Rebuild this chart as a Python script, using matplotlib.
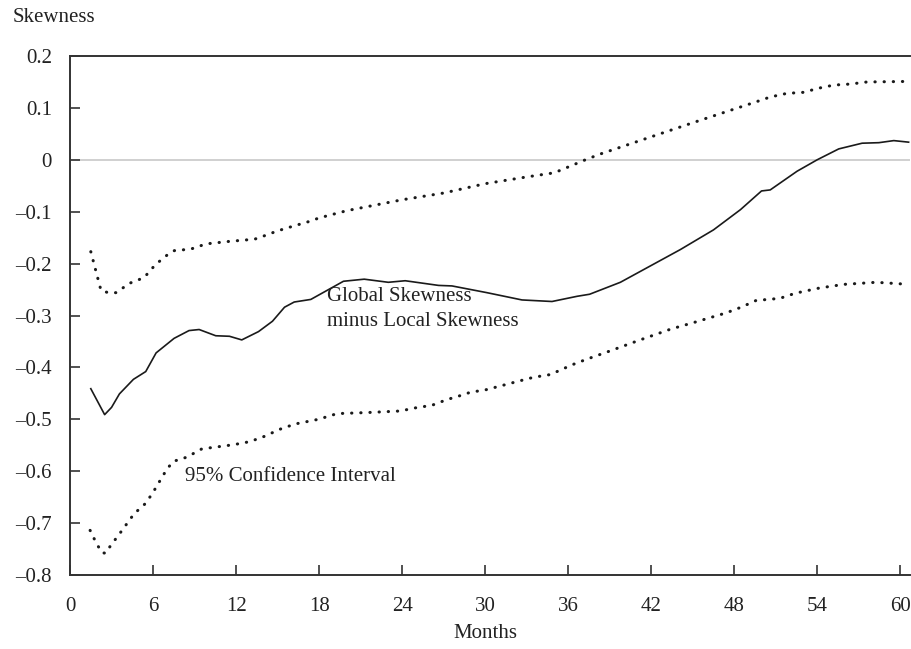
import matplotlib
matplotlib.use("Agg")
import matplotlib.pyplot as plt
from matplotlib.ticker import FixedLocator, FuncFormatter

# ---- data ----
diff_months = [1.5, 2.5, 3.0, 3.57, 4.58, 5.47, 6.22, 7.52, 8.6, 9.33, 10.53, 11.52, 12.41,
               13.62, 14.63, 15.5, 16.2, 17.4, 19.76, 21.26, 23.0, 24.22, 26.63, 27.6,
               30.13, 32.66, 34.83, 36.64, 37.55, 39.77, 44.1, 46.5, 48.45, 49.97, 50.6,
               52.54, 53.99, 55.55, 57.24, 58.45, 59.53, 60.6]
diff_values = [-0.441, -0.491, -0.477, -0.451, -0.423, -0.408, -0.372, -0.344, -0.329, -0.327,
               -0.339, -0.340, -0.347, -0.331, -0.311, -0.284, -0.274, -0.269, -0.234, -0.230,
               -0.236, -0.233, -0.242, -0.243, -0.256, -0.270, -0.273, -0.263, -0.259, -0.236,
               -0.173, -0.135, -0.096, -0.060, -0.058, -0.022, 0.0, 0.021, 0.032, 0.033,
               0.037, 0.034]

upper_months = [1.5, 2.24, 2.77, 3.33, 4.29, 5.35, 6.17, 7.04, 7.54, 8.73, 9.83, 11.57,
                13.33, 13.88, 14.99, 16.1, 17.26, 18.0, 20.0, 24.0, 27.0, 30.0, 33.0, 35.0,
                37.24, 38.3, 45.07, 49.5, 50.6, 51.8, 53.0, 54.1, 55.2, 56.4, 57.6, 60.5]
upper_values = [-0.177, -0.252, -0.256, -0.256, -0.238, -0.227, -0.202, -0.183, -0.175,
                -0.172, -0.162, -0.157, -0.153, -0.148, -0.137, -0.128, -0.119, -0.112,
                -0.098, -0.077, -0.064, -0.046, -0.033, -0.025, 0.0, 0.011, 0.072, 0.111,
                0.121, 0.128, 0.130, 0.138, 0.144, 0.146, 0.150, 0.151]

lower_months = [1.45, 1.76, 2.0, 2.29, 2.58, 2.89, 3.62, 4.63, 5.5, 6.15, 6.75, 7.06, 7.47,
                8.43, 9.52, 11.8, 13.0, 14.03, 15.18, 16.27, 17.95, 19.3, 21.45, 23.86,
                24.95, 26.15, 27.24, 28.37, 28.92, 30.06, 31.21, 32.34, 33.5, 34.66, 35.19,
                36.28, 37.36, 39.05, 41.2, 43.43, 45.14, 47.41, 48.5, 49.58, 51.29, 52.42,
                54.16, 55.92, 58.26, 60.62]
lower_values = [-0.714, -0.731, -0.743, -0.757, -0.758, -0.745, -0.719, -0.682, -0.661,
                -0.634, -0.607, -0.594, -0.581, -0.573, -0.557, -0.549, -0.543, -0.533,
                -0.519, -0.509, -0.500, -0.489, -0.487, -0.484, -0.478, -0.473, -0.462,
                -0.453, -0.448, -0.443, -0.435, -0.427, -0.419, -0.414, -0.408, -0.395,
                -0.384, -0.368, -0.347, -0.326, -0.313, -0.295, -0.284, -0.271, -0.267,
                -0.257, -0.247, -0.240, -0.236, -0.240]

x_ticks = [0, 6, 12, 18, 24, 30, 36, 42, 48, 54, 60]
y_ticks = [-0.8, -0.7, -0.6, -0.5, -0.4, -0.3, -0.2, -0.1, 0, 0.1, 0.2]

# ---- figure ----
plt.rcParams['font.family'] = ['Liberation Serif', 'DejaVu Serif']
fig = plt.figure(figsize=(9.12, 6.49), dpi=100)
ax = fig.add_axes([0.0768, 0.114, 0.921, 0.7997])

FS = 15
txt_col = '#222222'
spine_col = '#333333'
ax.axhline(0, color='#c4c4c4', lw=1.1, zorder=1)
ax.plot(diff_months, diff_values, color='#1a1a1a', lw=1.2, zorder=3)
dot_style = dict(color='#1a1a1a', lw=2.2, linestyle=(0, (0.1, 2.9)),
                 dash_capstyle='round', zorder=3)
ax.plot(upper_months, upper_values, **dot_style)
ax.plot(lower_months, lower_values, **dot_style)

ax.set_xlim(0, 60.7)
ax.set_ylim(-0.8, 0.2)
ax.xaxis.set_major_locator(FixedLocator(x_ticks))
ax.yaxis.set_major_locator(FixedLocator(y_ticks))

def yfmt(v, pos):
    if abs(v) < 1e-9:
        return '0'
    s = f'{abs(v):.1f}'
    return ('\u2013' + s) if v < 0 else s

ax.yaxis.set_major_formatter(FuncFormatter(yfmt))
ax.xaxis.set_major_formatter(FuncFormatter(lambda v, p: f'{int(round(v))}'))

for side in ['left', 'bottom', 'top']:
    ax.spines[side].set_color(spine_col)
    ax.spines[side].set_linewidth(1.4)
ax.spines['right'].set_visible(False)

ax.tick_params(axis='both', direction='in', length=7, width=1.2, color=spine_col,
               labelsize=FS, labelcolor=txt_col)
ax.tick_params(axis='x', pad=16)
ax.tick_params(axis='y', pad=13)

ax.text(18.6, -0.245, 'Global Skewness\nminus Local Skewness', fontsize=FS,
        color=txt_col, va='top', ha='left', linespacing=1.4)
ax.text(8.3, -0.611, '95% Confidence Interval', fontsize=FS, color=txt_col,
        va='center', ha='left')

fig.text(13 / 912, 1 - 18 / 649, 'Skewness', fontsize=FS, color=txt_col,
         va='center', ha='left')
fig.text(485 / 912, 1 - 634 / 649, 'Months', fontsize=FS, color=txt_col,
         va='center', ha='center')

fig.savefig('out.png', dpi=100)
